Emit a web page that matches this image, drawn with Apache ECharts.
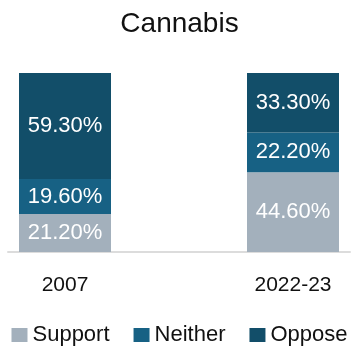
<!DOCTYPE html>
<html><head><meta charset="utf-8">
<script src="https://cdn.jsdelivr.net/npm/echarts@6/dist/echarts.min.js"></script>
<style>html,body{margin:0;padding:0;background:#fff}#c{width:359px;height:349px}</style>
</head><body><div id="c"></div>
<script>
var categories = ['2007', '', '2022-23'];
var support = [21.2, null, 44.6];
var neither = [19.6, null, 22.2];
var oppose = [59.3, null, 33.3];
var seriesNames = ['Support', 'Neither', 'Oppose'];
var colors = ['#a3b0bc', '#176184', '#124e69'];

var chart = echarts.init(document.getElementById('c'), null, {renderer: 'canvas'});
var font = '"Liberation Sans", Arial, sans-serif';
function mk(name, data, color) {
  return {
    name: name, type: 'bar', stack: 'a', data: data, barWidth: 92,
    itemStyle: {color: color},
    label: {show: true, position: 'inside', color: '#fff', fontSize: 22, fontFamily: font,
      formatter: function (p) { return p.value.toFixed(2) + '%'; }}
  };
}
chart.setOption({
  animation: false,
  color: colors,
  title: {text: 'Cannabis', left: 'center', top: 5,
    textStyle: {fontSize: 28, fontWeight: 'normal', color: '#111', fontFamily: font}},
  legend: {top: 324, left: 'center', itemWidth: 16, itemHeight: 14, itemGap: 24,
    icon: 'rect', padding: 0,
    textStyle: {fontSize: 22, color: '#111', fontFamily: font},
    data: seriesNames},
  grid: {left: 8, right: 9, top: 73, bottom: 97},
  xAxis: {type: 'category', data: categories,
    axisLine: {lineStyle: {color: '#dcdcdc', width: 2}},
    axisTick: {show: false},
    axisLabel: {color: '#111', fontSize: 21, margin: 23, fontFamily: font}},
  yAxis: {type: 'value', min: 0, max: 100.1, show: false, splitLine: {show: false}},
  series: [mk(seriesNames[0], support, colors[0]), mk(seriesNames[1], neither, colors[1]), mk(seriesNames[2], oppose, colors[2])]
});
</script></body></html>
